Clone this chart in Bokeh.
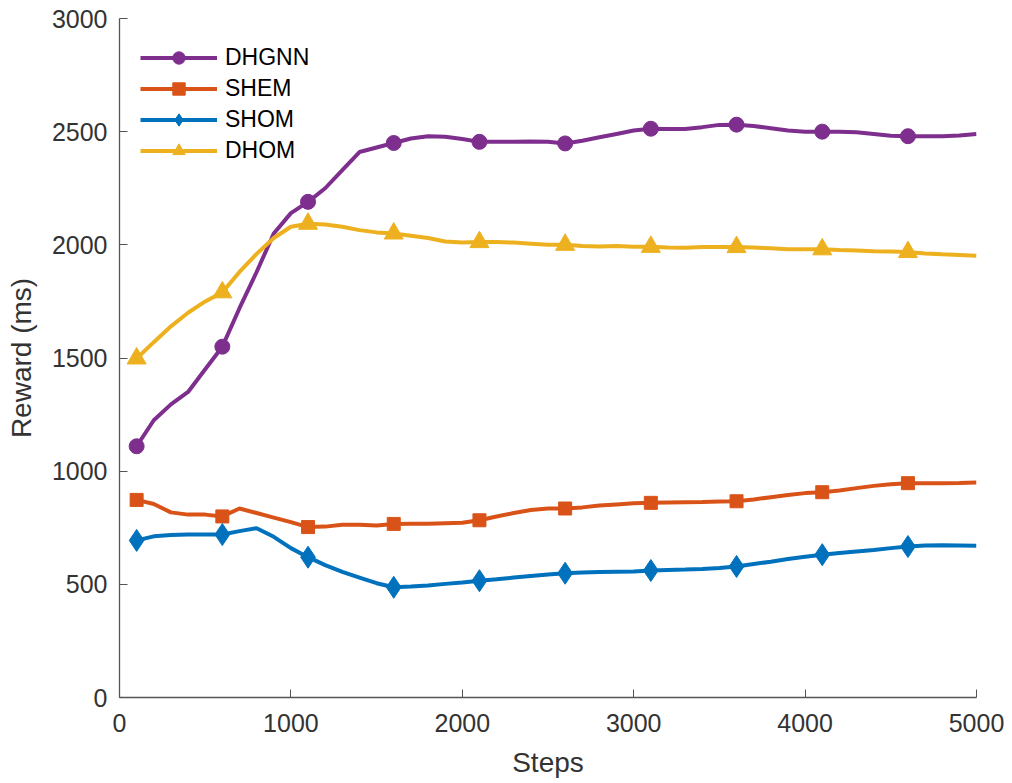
from bokeh.plotting import figure
from bokeh.models import Range1d, FixedTicker, Legend, LegendItem
from bokeh.embed import file_html
from bokeh.resources import INLINE

steps = list(range(100, 5001, 100))

dhgnn = [1110, 1225, 1295, 1350, 1450, 1550, 1720, 1880, 2050, 2140,
         2190, 2250, 2330, 2410, 2430, 2450, 2470, 2480, 2478, 2468,
         2455, 2455, 2455, 2457, 2455, 2448, 2460, 2475, 2490, 2505,
         2513, 2512, 2512, 2520, 2530, 2531, 2525, 2515, 2505, 2500,
         2500, 2500, 2497, 2490, 2482, 2480, 2480, 2480, 2483, 2490]

shem = [873, 855, 818, 808, 808, 800, 835, 815, 795, 775,
        753, 755, 763, 763, 760, 767, 768, 768, 770, 772,
        783, 800, 815, 828, 835, 835, 840, 848, 853, 858,
        860, 862, 863, 864, 866, 867, 875, 885, 895, 903,
        907, 915, 925, 935, 942, 947, 947, 947, 948, 950]

shom = [694, 712, 718, 720, 720, 720, 735, 748, 710, 660,
        620, 585, 555, 530, 505, 487, 490, 495, 502, 508,
        516, 522, 530, 537, 543, 549, 552, 555, 556, 557,
        561, 563, 565, 568, 572, 579, 590, 600, 612, 622,
        631, 638, 645, 652, 660, 667, 672, 673, 672, 670]

dhom = [1498, 1570, 1640, 1700, 1750, 1790, 1880, 1960, 2030, 2080,
        2093, 2090, 2080, 2065, 2055, 2050, 2040, 2030, 2015, 2010,
        2012, 2012, 2010, 2005, 2000, 2000, 1995, 1993, 1995, 1992,
        1991, 1988, 1987, 1990, 1990, 1990, 1988, 1985, 1980, 1980,
        1980, 1977, 1975, 1972, 1970, 1968, 1962, 1958, 1955, 1952]

x_ticks = [0, 1000, 2000, 3000, 4000, 5000]
y_ticks = [0, 500, 1000, 1500, 2000, 2500, 3000]

series = [
    ("DHGNN", dhgnn, "#7E2F8E", "circle", 15),
    ("SHEM", shem, "#D95319", "square", 13),
    ("SHOM", shom, "#0072BD", "diamond", 22),
    ("DHOM", dhom, "#EDB120", "triangle", 19),
]

FONT = "Liberation Sans"

p = figure(width=1010, height=780, output_backend="svg", toolbar_location=None,
           x_range=Range1d(0, 5000), y_range=Range1d(0, 3000),
           min_border_left=119, min_border_right=34, min_border_top=18,
           min_border_bottom=83)
p.outline_line_color = None
p.grid.visible = False

items = []
for name, vals, color, marker, size in series:
    r1 = p.line(steps, vals, line_color=color, line_width=4)
    r2 = p.scatter(steps[::5], vals[::5], marker=marker, size=size,
                   fill_color=color, line_color=color)
    items.append(LegendItem(label=name, renderers=[r1, r2]))

legend = Legend(items=items, location=(21, 531))
legend.border_line_color = None
legend.background_fill_alpha = 0
legend.label_text_font = FONT
legend.label_text_font_size = "23px"
legend.label_text_color = "#000000"
legend.glyph_width = 77
legend.glyph_height = 31
legend.label_height = 31
legend.spacing = 0
legend.margin = 0
legend.padding = 0
legend.label_standoff = 8
p.add_layout(legend)

for ax in (p.xaxis, p.yaxis):
    ax.major_tick_in = 8
    ax.major_tick_out = 0
    ax.minor_tick_in = 0
    ax.minor_tick_out = 0
    ax.axis_line_color = "#555555"
    ax.major_tick_line_color = "#555555"
    ax.axis_line_width = 1.3
    ax.major_label_text_font = FONT
    ax.major_label_text_font_size = "25px"
    ax.major_label_text_color = "#333333"
    ax.axis_label_text_font = FONT
    ax.axis_label_text_font_size = "28px"
    ax.axis_label_text_color = "#333333"
    ax.axis_label_text_font_style = "normal"

p.xaxis.ticker = FixedTicker(ticks=x_ticks)
p.yaxis.ticker = FixedTicker(ticks=y_ticks)
p.xaxis.axis_label = "Steps"
p.yaxis.axis_label = "Reward (ms)"
p.xaxis.major_label_standoff = 16
p.yaxis.major_label_standoff = 12
p.xaxis.axis_label_standoff = 12
p.yaxis.axis_label_standoff = 12

open("out.html", "w").write(file_html(p, INLINE))
